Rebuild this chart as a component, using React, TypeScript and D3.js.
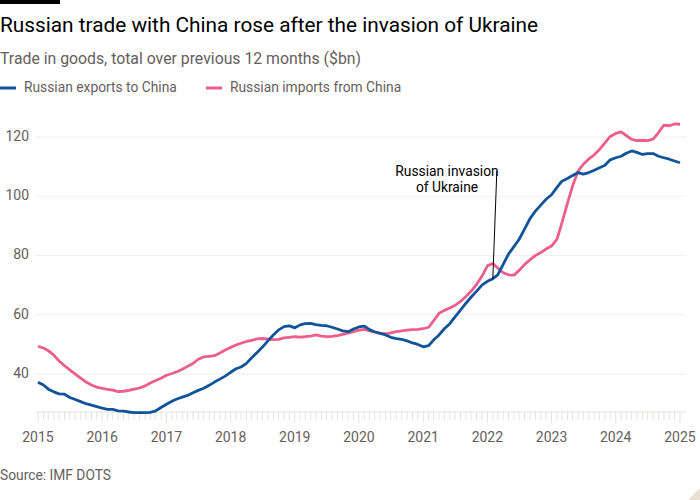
import React from 'react';
import * as d3 from 'd3';

const WIDTH = 700;
const HEIGHT = 500;
const FONT = 'Roboto, "Noto Sans", sans-serif';

const BLUE = '#0f5499';
const PINK = '#eb5e8d';

// monthly, Jan 2015 .. Jan 2025, $bn (12-month rolling totals)
const EXPORTS_TO_CHINA = [
  37.2, 36.3, 34.9, 34.0, 33.3, 33.2, 32.1, 31.4, 30.7, 30.0, 29.5, 29.0,
  28.5, 28.1, 28.1, 27.6, 27.5, 27.2, 27.0, 27.0, 27.0, 27.1, 27.6, 28.7,
  29.8, 30.8, 31.6, 32.2, 32.8, 33.7, 34.5, 35.2, 36.2, 37.3, 38.3, 39.3,
  40.6, 41.8, 42.4, 43.6, 45.5, 47.3, 49.1, 51.2, 53.2, 54.9, 56.0, 56.3,
  55.6, 56.6, 57.0, 57.1, 56.7, 56.4, 56.3, 55.8, 55.2, 54.6, 54.3, 55.2,
  55.9, 56.2, 55.0, 54.2, 53.7, 53.2, 52.4, 52.0, 51.7, 51.2, 50.5, 50.0,
  49.2, 49.6, 51.5, 53.2, 55.3, 57.0, 59.3, 61.6, 63.9, 66.0, 68.0, 70.0,
  71.3, 72.2, 73.5, 77.0, 80.5, 83.0, 85.5, 89.0, 92.5, 95.0, 97.0, 99.0,
  100.5, 103.0, 105.1, 106.0, 107.0, 108.0, 107.5, 108.0, 108.8, 109.6, 110.5, 112.3,
  113.0, 113.5, 114.5, 115.3, 114.8, 114.1, 114.4, 114.4, 113.5, 113.0, 112.5, 111.9,
  111.3,
];

const IMPORTS_FROM_CHINA = [
  49.4, 48.8, 47.9, 46.4, 44.4, 42.8, 41.4, 40.0, 38.6, 37.3, 36.3, 35.6,
  35.2, 34.8, 34.6, 34.1, 34.2, 34.5, 34.9, 35.3, 36.0, 37.0, 37.8, 38.6,
  39.6, 40.2, 40.8, 41.6, 42.6, 43.6, 45.0, 45.8, 46.0, 46.2, 47.1, 48.1,
  49.0, 49.8, 50.4, 51.0, 51.4, 51.9, 52.0, 51.8, 51.6, 51.7, 52.2, 52.4,
  52.6, 52.5, 52.6, 52.8, 53.2, 52.8, 52.6, 52.7, 53.0, 53.4, 53.8, 54.3,
  54.8, 55.1, 54.6, 54.2, 53.7, 53.6, 53.9, 54.3, 54.6, 54.8, 55.0, 55.1,
  55.3, 55.8, 58.0, 60.5, 61.5, 62.3, 63.2, 64.5, 66.2, 68.0, 70.3, 73.0,
  76.5, 77.3, 75.8, 74.2, 73.5, 73.4, 75.0, 77.0, 78.6, 80.0, 81.0, 82.2,
  83.2, 85.5, 91.0, 97.5, 103.5, 108.5, 110.8, 112.6, 114.0, 115.8, 118.0, 120.2,
  121.2, 121.7, 120.5, 119.2, 118.8, 118.9, 118.8, 119.3, 121.5, 124.0, 123.8, 124.4,
  124.3,
];

const START = new Date(2015, 0, 1);
const YEAR_TICKS = d3.range(2015, 2026);
const Y_TICKS = [40, 60, 80, 100, 120];
const INVASION_MONTH = new Date(2022, 1, 1);

const monthDate = (i: number) => d3.timeMonth.offset(START, i);

export default function App() {
  const x = d3
    .scaleTime()
    .domain([START, new Date(2025, 0, 1)])
    .range([38, 680]);
  const y = d3.scaleLinear().domain([27.2, 120]).range([412, 137]);

  const line = d3
    .line<number>()
    .x((_, i) => x(monthDate(i)))
    .y((d) => y(d))
    .curve(d3.curveLinear);

  const months = d3.timeMonth.range(START, new Date(2025, 0, 2));
  const invIdx = d3.timeMonth.count(START, INVASION_MONTH);
  const annX = x(INVASION_MONTH);
  const annY = y(EXPORTS_TO_CHINA[invIdx]);

  return (
    <svg
      width={WIDTH}
      height={HEIGHT}
      style={{ position: 'absolute', left: 0, top: 0, background: '#fff' }}
      fontFamily={FONT}
    >
      <rect x={0} y={0} width={60} height={4} fill="#000" />
      <text x={0} y={32} fontSize={20.8} fill="#000">
        Russian trade with China rose after the invasion of Ukraine
      </text>
      <text x={0} y={64} fontSize={15.8} fill="#66605c">
        Trade in goods, total over previous 12 months ($bn)
      </text>

      <g transform="translate(0, 88)" fontSize={13.8} fill="#66605c">
        <line x1={0} x2={16} y1={0} y2={0} stroke={BLUE} strokeWidth={3} />
        <text x={24} y={0} dominantBaseline="middle">Russian exports to China</text>
        <line x1={206} x2={222} y1={0} y2={0} stroke={PINK} strokeWidth={3} />
        <text x={230} y={0} dominantBaseline="middle">Russian imports from China</text>
      </g>

      {Y_TICKS.map((t) => (
        <g key={`y-${t}`}>
          <line x1={35} x2={686} y1={y(t)} y2={y(t)} stroke="#f2efed" strokeWidth={1} />
          <text
            x={29}
            y={y(t)}
            textAnchor="end"
            dominantBaseline="middle"
            fontSize={14}
            fill="#66605c"
          >
            {t}
          </text>
        </g>
      ))}

      <line x1={35} x2={686} y1={y(27.2)} y2={y(27.2)} stroke="#e6e2df" strokeWidth={1} />
      {months.map((m) => {
        const isYear = m.getMonth() === 0;
        return (
          <line
            key={`t-${m.getTime()}`}
            x1={x(m)}
            x2={x(m)}
            y1={412}
            y2={isYear ? 423 : 420}
            stroke="#e6e2df"
            strokeWidth={1}
          />
        );
      })}
      {YEAR_TICKS.map((yr) => (
        <text
          key={`x-${yr}`}
          x={x(new Date(yr, 0, 1))}
          y={442}
          textAnchor="middle"
          fontSize={14}
          fill="#66605c"
        >
          {yr}
        </text>
      ))}

      <path d={line(IMPORTS_FROM_CHINA) ?? ''} fill="none" stroke={PINK} strokeWidth={2.8} strokeLinejoin="round" />
      <path d={line(EXPORTS_TO_CHINA) ?? ''} fill="none" stroke={BLUE} strokeWidth={2.8} strokeLinejoin="round" />

      <line x1={annX} y1={annY} x2={annX + 4} y2={171} stroke="#000" strokeWidth={1} />
      <text x={447} y={176} textAnchor="middle" fontSize={13.8} fill="#000">
        Russian invasion
      </text>
      <text x={447} y={192} textAnchor="middle" fontSize={13.8} fill="#000">
        of Ukraine
      </text>

      <text x={0} y={480} fontSize={13.8} fill="#66605c">
        Source: IMF DOTS
      </text>
      <path d="M700,488 L700,500 L688,500 Z" fill="#e9dfd3" />
    </svg>
  );
}
